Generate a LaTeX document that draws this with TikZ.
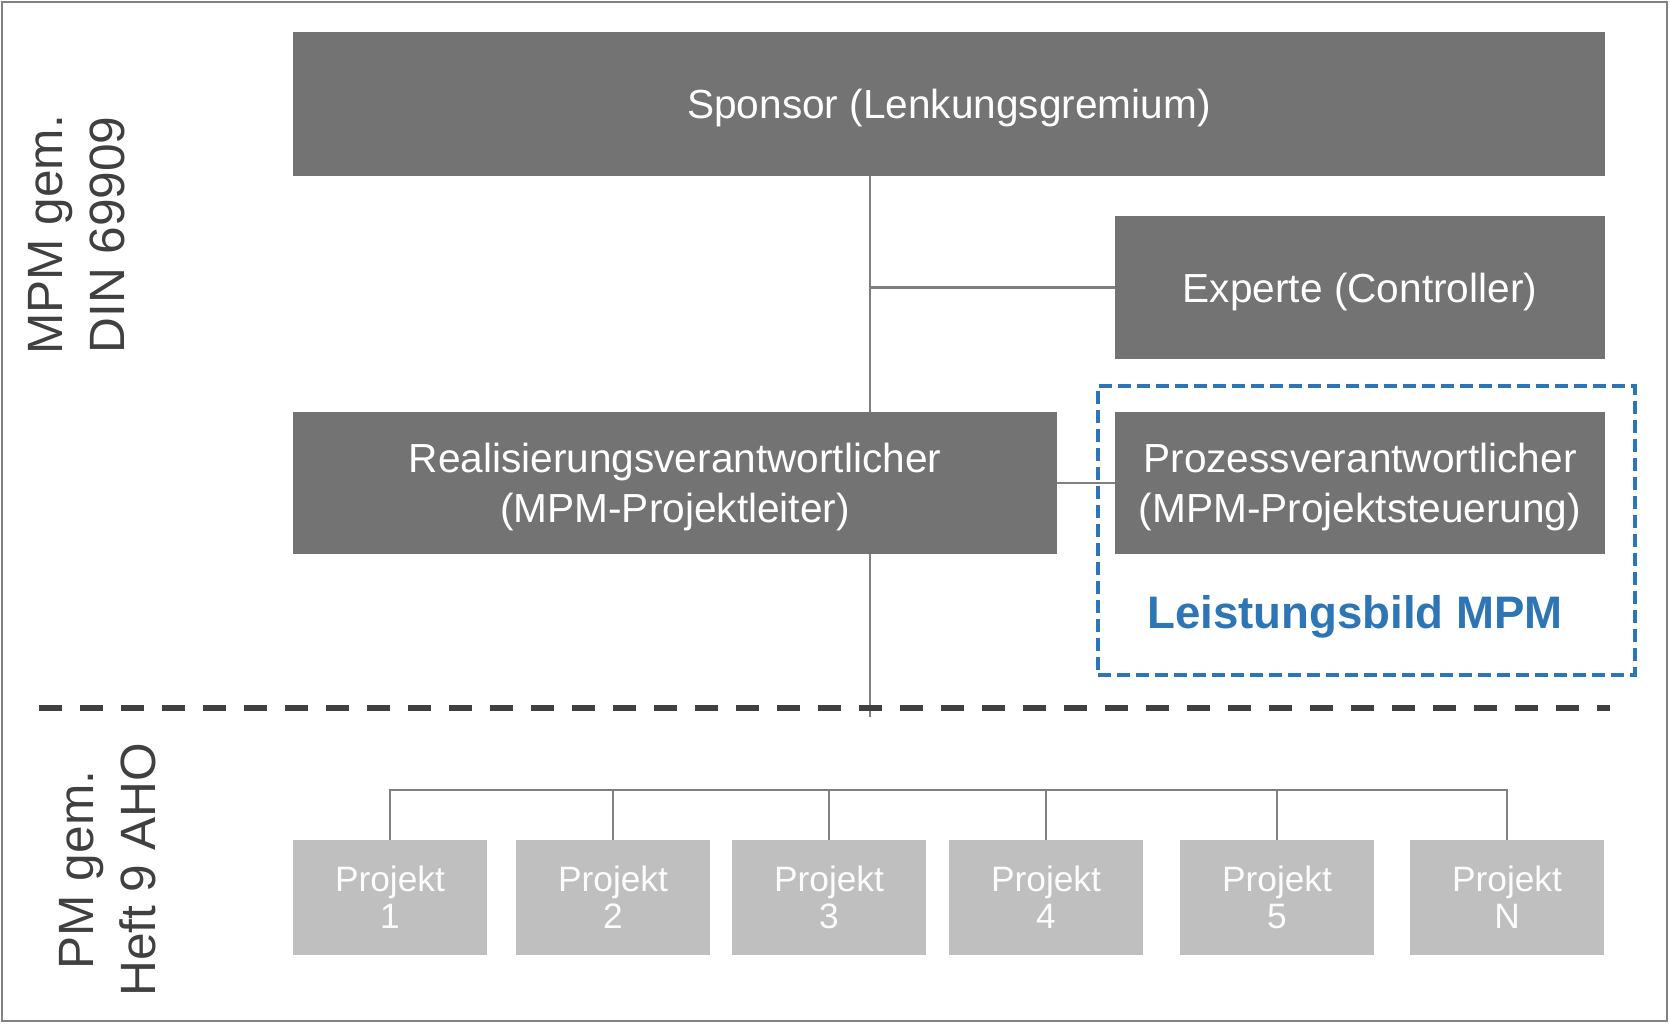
\documentclass[tikz,border=0pt]{standalone}
\usepackage{fontspec}
\setmainfont{Liberation Sans}
\usetikzlibrary{backgrounds}
\definecolor{boxgray}{RGB}{114,115,114}
\definecolor{projgray}{RGB}{191,191,191}
\definecolor{linegray}{RGB}{127,127,127}
\definecolor{darktext}{RGB}{64,64,64}
\definecolor{mpmblue}{RGB}{46,117,182}
\definecolor{framegray}{RGB}{130,130,130}
\begin{document}
\begin{tikzpicture}[x=1pt,y=-1pt,
  framebox/.style={draw=framegray, line width=2pt, fill=none, inner sep=0pt},
  darkbox/.style={fill=boxgray, text=white, inner sep=0pt, align=center, text depth=0pt,
    font=\fontsize{40.6}{50}\selectfont},
  projbox/.style={fill=projgray, text=white!96!projgray, inner sep=0pt, align=center,
    minimum width=194pt, minimum height=115pt, font=\fontsize{35.3}{37}\selectfont},
  sidelabel/.style={rotate=90, text=darktext, align=center, inner sep=0pt,
    font=\fontsize{49.6}{62}\selectfont},
  conn/.style={draw=linegray, line width=2.5pt},
  sepline/.style={draw=darktext, line width=6pt, dash pattern=on 23pt off 18pt},
  mpmframe/.style={draw=mpmblue, line width=4pt, dash pattern=on 13pt off 6pt, inner sep=0pt},
  mpmlabel/.style={text=mpmblue, font=\fontsize{45.6}{55}\selectfont\bfseries, inner sep=0pt}
]
\useasboundingbox (0,0) rectangle (1670,1025);
\node[framebox, minimum width=1665pt, minimum height=1019pt] (frame) at (834.5,511.5) {};

% side labels
\node[sidelabel] (toplabel) at (77,235) {MPM gem.\\DIN 69909};
\node[sidelabel] (botlabel) at (108,870) {PM gem.\\Heft 9 AHO};

% main boxes
\node[darkbox, minimum width=1312pt, minimum height=144pt] (sponsor) at (949,104) {Sponsor (Lenkungsgremium)};
\node[darkbox, minimum width=490pt, minimum height=143pt] (experte) at (1360,287.5) {Experte (Controller)};
\node[darkbox, minimum width=764pt, minimum height=142pt] (real) at (675,483) {Realisierungsverantwortlicher\\(MPM-Projektleiter)};
\node[darkbox, minimum width=490pt, minimum height=142pt] (proz) at (1360,483) {Prozessverantwortlicher\\(MPM-Projektsteuerung)};

% MPM dashed frame
\node[mpmframe, minimum width=537pt, minimum height=289pt] (mpmbox) at (1366.5,530.5) {};
\node[mpmlabel] (mpmtext) at (1355,617) {Leistungsbild MPM};

% projects
\node[projbox] (p1) at (390,897.5) {Projekt\\1};
\node[projbox] (p2) at (613,897.5) {Projekt\\2};
\node[projbox] (p3) at (829,897.5) {Projekt\\3};
\node[projbox] (p4) at (1046,897.5) {Projekt\\4};
\node[projbox] (p5) at (1277,897.5) {Projekt\\5};
\node[projbox] (pN) at (1507,897.5) {Projekt\\N};

% coordinates
\coordinate (tend) at (870,717);
\coordinate (bus) at (0,790);
\coordinate (sepL) at (39,708);
\coordinate (sepR) at (1610,708);

\begin{pgfonlayer}{background}
  \draw[conn] (sponsor.south -| tend) -- (tend);
  \draw[conn] (tend |- experte.west) -- (experte.west);
  \draw[conn] (real.east) -- (proz.west);
  \draw[conn] (p1.north) -- (p1.north |- bus) -- (pN.north |- bus) -- (pN.north);
  \foreach \p in {p2,p3,p4,p5} { \draw[conn] (\p.north) -- (\p.north |- bus); }
\end{pgfonlayer}
\draw[sepline] (sepL) -- (sepR);
\end{tikzpicture}
\end{document}
